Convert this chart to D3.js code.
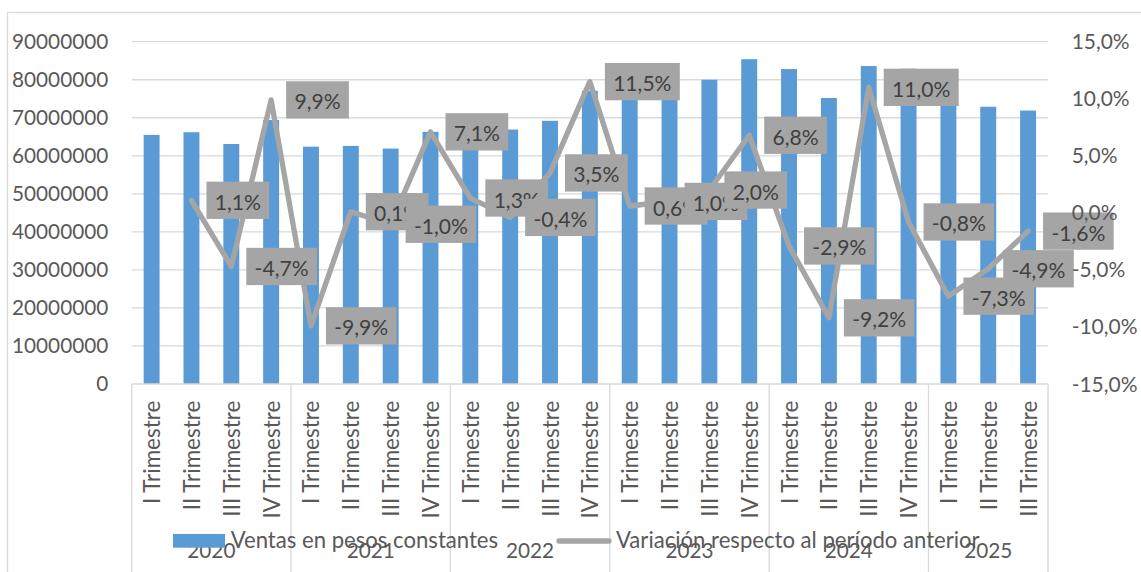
<!DOCTYPE html>
<html>
<head>
<meta charset="utf-8">
<script src="https://cdn.jsdelivr.net/npm/d3@7/dist/d3.min.js"></script>
<style>
  html, body { margin: 0; padding: 0; background: #ffffff; overflow: hidden; }
  svg { display: block; }
</style>
</head>
<body>
<svg id="chart" width="1141" height="572"></svg>
<script>
// ---------------- DATA ----------------
const years = ["2020", "2021", "2022", "2023", "2024", "2025"];
const categoryYears = ["2020","2020","2020","2020","2021","2021","2021","2021","2022","2022","2022","2022","2023","2023","2023","2023","2024","2024","2024","2024","2025","2025","2025"];
const categoryQuarters = ["I Trimestre","II Trimestre","III Trimestre","IV Trimestre","I Trimestre","II Trimestre","III Trimestre","IV Trimestre","I Trimestre","II Trimestre","III Trimestre","IV Trimestre","I Trimestre","II Trimestre","III Trimestre","IV Trimestre","I Trimestre","II Trimestre","III Trimestre","IV Trimestre","I Trimestre","II Trimestre","III Trimestre"];
const ventas = [65500000, 66200000, 63100000, 69400000, 62400000, 62600000, 61900000, 66300000, 67200000, 66900000, 69200000, 77100000, 77600000, 78400000, 80000000, 85400000, 82800000, 75200000, 83600000, 82900000, 76900000, 72900000, 71900000];
const variacion = [null, 1.1, -4.7, 9.9, -9.9, 0.1, -1.0, 7.1, 1.3, -0.4, 3.5, 11.5, 0.6, 1.0, 2.0, 6.8, -2.9, -9.2, 11.0, -0.8, -7.3, -4.9, -1.6];
const leftTicks = [0, 10000000, 20000000, 30000000, 40000000, 50000000, 60000000, 70000000, 80000000, 90000000];
const rightTicks = [-15, -10, -5, 0, 5, 10, 15];
const seriesNames = ["Ventas en pesos constantes", "Variación respecto al período anterior"];

// ---------------- SETUP ----------------
const svg = d3.select("#chart");
const FONT = "Lato, 'Open Sans', sans-serif";
const AXIS_COLOR = "#595959";
const GRID_COLOR = "#D9D9D9";
const BAR_COLOR = "#5B9BD5";
const LINE_COLOR = "#A5A5A5";
const LABEL_TEXT = "#404040";

function fitSize(sample, target) {
  const t = svg.append("text").attr("font-family", FONT).attr("font-size", 100).text(sample);
  const w = t.node().getComputedTextLength();
  t.remove();
  return 100 * target / w;
}
const numSize = fitSize("90000000", 96.3);
const pctSize = fitSize("15,0%", 58);
const catSize = fitSize("III Trimestre", 116);
const legSize = fitSize(seriesNames[0], 267.6);
const lblSize = fitSize("11,5%", 58.4);

const plotLeft = 131.7, plotRight = 1048, plotTop = 41.7, plotBottom = 384;

const idx = d3.range(ventas.length);
const x = d3.scaleBand().domain(idx).range([plotLeft, plotRight]).paddingInner(0.6).paddingOuter(0.3);
const yL = d3.scaleLinear().domain([0, 90000000]).range([plotBottom, plotTop]);
const yR = d3.scaleLinear().domain([-15, 15]).range([plotBottom, plotTop]);
const cx = i => x(i) + x.bandwidth() / 2;

const fmtPct = v => d3.format(".1f")(v).replace(".", ",").replace("−", "-") + "%";

// chart area border
svg.append("rect")
  .attr("x", 7.5).attr("y", 12.5).attr("width", 1300).attr("height", 700)
  .attr("fill", "none").attr("stroke", GRID_COLOR).attr("stroke-width", 1.3);

// gridlines
svg.append("g").selectAll("line").data(leftTicks.filter(d => d > 0)).join("line")
  .attr("x1", plotLeft).attr("x2", plotRight)
  .attr("y1", d => yL(d)).attr("y2", d => yL(d))
  .attr("stroke", GRID_COLOR).attr("stroke-width", 1.3);

// bars
svg.append("g").selectAll("rect").data(idx).join("rect")
  .attr("x", i => x(i)).attr("width", x.bandwidth())
  .attr("y", i => yL(ventas[i])).attr("height", i => yL(0) - yL(ventas[i]))
  .attr("fill", BAR_COLOR);

// bottom axis line
svg.append("line")
  .attr("x1", plotLeft).attr("x2", plotRight).attr("y1", plotBottom).attr("y2", plotBottom)
  .attr("stroke", GRID_COLOR).attr("stroke-width", 1.3);

// year separators
const yearBounds = [0];
years.forEach(yr => yearBounds.push(yearBounds[yearBounds.length - 1] + categoryYears.filter(c => c === yr).length));
const sepX = k => k < ventas.length ? x(k) - x.step() * x.paddingInner() / 2 : plotRight;
svg.append("g").selectAll("line").data(yearBounds).join("line")
  .attr("x1", k => sepX(k)).attr("x2", k => sepX(k))
  .attr("y1", plotBottom).attr("y2", 580)
  .attr("stroke", GRID_COLOR).attr("stroke-width", 1.3);

// line
const lineGen = d3.line().defined(i => variacion[i] !== null).x(i => cx(i)).y(i => yR(variacion[i]));
svg.append("path").datum(idx)
  .attr("d", lineGen)
  .attr("fill", "none").attr("stroke", LINE_COLOR).attr("stroke-width", 5.3)
  .attr("stroke-linejoin", "round").attr("stroke-linecap", "round");

// data labels
const lblG = svg.append("g");
idx.filter(i => variacion[i] !== null).forEach(i => {
  const g = lblG.append("g");
  const px = cx(i), py = yR(variacion[i]);
  const txt = g.append("text")
    .attr("font-family", FONT).attr("font-size", lblSize).attr("fill", LABEL_TEXT)
    .attr("dominant-baseline", "central")
    .text(fmtPct(variacion[i]));
  const w = txt.node().getComputedTextLength();
  const bx = px + 15, bh = 37.3;
  g.insert("rect", "text")
    .attr("x", bx).attr("y", py - bh / 2).attr("width", w + 16.6).attr("height", bh)
    .attr("fill", LINE_COLOR);
  txt.attr("x", bx + 8.3).attr("y", py + 1);
});

// left axis labels
svg.append("g").selectAll("text").data(leftTicks).join("text")
  .attr("x", 108.3).attr("y", d => yL(d)).attr("dy", "0.36em")
  .attr("text-anchor", "end")
  .attr("font-family", FONT).attr("font-size", numSize).attr("fill", AXIS_COLOR)
  .text(d => d3.format("d")(d));

// right axis labels
svg.append("g").selectAll("text").data(rightTicks).join("text")
  .attr("x", 1071.7).attr("y", d => yR(d)).attr("dy", "0.36em")
  .attr("text-anchor", "start")
  .attr("font-family", FONT).attr("font-size", pctSize).attr("fill", AXIS_COLOR)
  .text(d => fmtPct(d));

// category labels (rotated)
svg.append("g").selectAll("text").data(idx).join("text")
  .attr("transform", i => `translate(${cx(i) + 8.5},400.7) rotate(-90)`)
  .attr("text-anchor", "end")
  .attr("font-family", FONT).attr("font-size", catSize).attr("fill", AXIS_COLOR)
  .text(i => categoryQuarters[i]);

// year labels
svg.append("g").selectAll("text").data(years).join("text")
  .attr("x", (d, j) => (sepX(yearBounds[j]) + sepX(yearBounds[j + 1])) / 2)
  .attr("y", 558.3)
  .attr("text-anchor", "middle")
  .attr("font-family", FONT).attr("font-size", numSize).attr("fill", AXIS_COLOR)
  .text(d => d);

// legend
const leg = svg.append("g");
leg.append("rect").attr("x", 173).attr("y", 534).attr("width", 52).attr("height", 13.7).attr("fill", BAR_COLOR);
leg.append("text").attr("x", 230.7).attr("y", 547.7)
  .attr("font-family", FONT).attr("font-size", legSize).attr("fill", AXIS_COLOR)
  .text(seriesNames[0]);
leg.append("line").attr("x1", 559).attr("x2", 609).attr("y1", 541).attr("y2", 541)
  .attr("stroke", LINE_COLOR).attr("stroke-width", 5.3).attr("stroke-linecap", "round");
leg.append("text").attr("x", 616).attr("y", 547.7)
  .attr("font-family", FONT).attr("font-size", legSize).attr("fill", AXIS_COLOR)
  .text(seriesNames[1]);
</script>
</body>
</html>
